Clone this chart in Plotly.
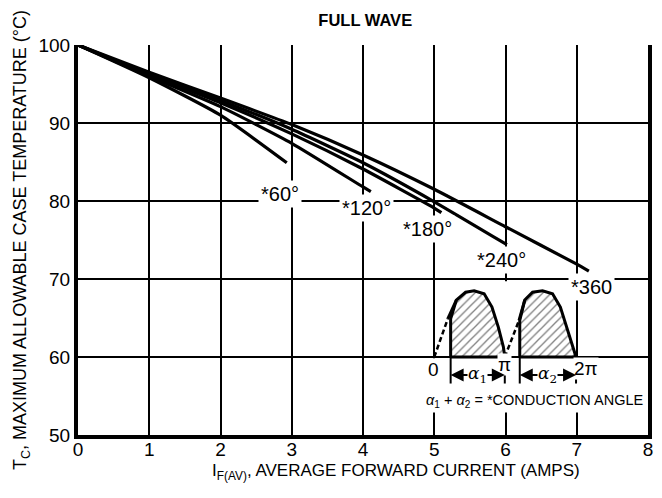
import plotly.graph_objects as go

# ---- data ----
x_ticks = [0, 1, 2, 3, 4, 5, 6, 7, 8]
y_ticks = [50, 60, 70, 80, 90, 100]

x_360 = [0, 1, 2, 3, 4, 5, 6, 7, 7.17]
t_360 = [100, 96.5, 93.2, 89.8, 85.9, 81.5, 76.7, 71.9, 71.0]
x_240 = [0, 1, 2, 3, 4, 5, 6.02]
t_240 = [100, 96.3, 92.9, 89.2, 84.9, 79.9, 74.4]
x_180 = [0, 1, 2, 3, 4, 5, 5.1]
t_180 = [100, 96.2, 92.6, 88.6, 84.1, 79.1, 78.5]
x_120 = [0, 1, 2, 3, 4, 4.11]
t_120 = [100, 96.0, 92.1, 87.4, 81.8, 81.2]
x_60 = [0, 1, 2, 2.93]
t_60 = [100, 95.8, 91.0, 84.9]

curve_names = ["*60°", "*120°", "*180°", "*240°", "*360"]
label_x = [2.84, 4.05, 4.9, 5.95, 7.2]
label_t = [80.9, 79.1, 76.4, 72.4, 69.0]

# inset waveform
hump1_x = [5.19, 5.31, 5.44, 5.56, 5.70, 5.81, 5.90, 5.97, 5.99]
hump1_t = [64.9, 67.3, 68.3, 68.5, 68.1, 66.4, 63.8, 61.3, 60.0]
hump2_x = [6.19, 6.27, 6.38, 6.52, 6.66, 6.77, 6.86, 6.95, 6.99]
hump2_t = [64.7, 67.3, 68.3, 68.5, 68.1, 66.4, 63.8, 61.3, 60.0]
start1_x = 5.23
start2_x = 6.20
dash1_x = [5.0, 5.19]
dash1_t = [60.0, 64.9]
dash2_x = [5.99, 6.19]
dash2_t = [60.0, 64.7]

FONT = "Liberation Sans, Arial, sans-serif"

fig = go.Figure()

line_style = dict(color="black", width=3.2, shape="spline", smoothing=0.5)
for xs, ts in [(x_60, t_60), (x_120, t_120), (x_180, t_180), (x_240, t_240), (x_360, t_360)]:
    fig.add_trace(go.Scatter(x=xs, y=ts, mode="lines", line=line_style,
                             showlegend=False, hoverinfo="skip"))

# hatched humps
for hx, ht, sx in [(hump1_x, hump1_t, start1_x), (hump2_x, hump2_t, start2_x)]:
    px = [sx, sx] + hx[1:] + [sx]
    pt = [60.0, ht[0]] + ht[1:] + [60.0]
    fig.add_trace(go.Scatter(x=px, y=pt, mode="lines", fill="toself",
                             fillcolor="rgba(255,255,255,1)",
                             fillpattern=dict(shape="/", fgcolor="black", bgcolor="white",
                                              size=6, solidity=0.22),
                             line=dict(color="black", width=3),
                             showlegend=False, hoverinfo="skip"))
    fig.add_trace(go.Scatter(x=hx[:2], y=ht[:2], mode="lines",
                             line=dict(color="black", width=3),
                             showlegend=False, hoverinfo="skip"))

for dx, dt in [(dash1_x, dash1_t), (dash2_x, dash2_t)]:
    fig.add_trace(go.Scatter(x=dx, y=dt, mode="lines",
                             line=dict(color="black", width=2.5, dash="5px,3px"),
                             showlegend=False, hoverinfo="skip"))

shapes = []
# masks hiding grid lines inside the inset
shapes.append(dict(type="rect", xref="x", yref="y", x0=4.8, x1=7.96, y0=52.9, y1=59.8,
                   fillcolor="white", line=dict(width=0), layer="between"))
shapes.append(dict(type="rect", xref="x", yref="y", x0=5.9, x1=6.1, y0=60.3, y1=69.7,
                   fillcolor="white", line=dict(width=0), layer="between"))
# bracket ticks
for bx in [start1_x, 5.99, start2_x, 6.99]:
    shapes.append(dict(type="line", xref="x", yref="y", x0=bx, x1=bx, y0=56.6, y1=60.0,
                       line=dict(color="black", width=2), layer="above"))

annotations = []
for name, lx, lt in zip(curve_names, label_x, label_t):
    annotations.append(dict(x=lx, y=lt, xref="x", yref="y", text=name, showarrow=False,
                            font=dict(family=FONT, size=20, color="black"),
                            bgcolor="white", borderpad=2))

# pi labels
for txt, tx, tt in [("0", 4.99, 58.4), ("π", 5.99, 59.0), ("2π", 7.13, 58.5)]:
    annotations.append(dict(x=tx, y=tt, xref="x", yref="y", text=txt, showarrow=False,
                            font=dict(family=FONT, size=19, color="black"),
                            bgcolor="white", borderpad=0))

# alpha brackets with arrows
for cx, left, right, sub in [((start1_x + 5.99) / 2, start1_x, 5.99, "1"),
                             ((start2_x + 6.99) / 2, start2_x, 6.99, "2")]:
    for end in (left, right):
        annotations.append(dict(x=end, y=57.7, ax=cx, ay=57.7, xref="x", yref="y",
                                axref="x", ayref="y", text="", showarrow=True,
                                arrowhead=2, arrowsize=1.3, arrowwidth=2, arrowcolor="black"))
    annotations.append(dict(x=cx, y=57.7, xref="x", yref="y",
                            text="<i>α</i><sub>" + sub + "</sub>", showarrow=False,
                            font=dict(family="DejaVu Serif, serif", size=17, color="black"),
                            bgcolor="white", borderpad=0))

annotations.append(dict(x=6.42, y=54.3, xref="x", yref="y",
                        text="<i>α</i><sub>1</sub> + <i>α</i><sub>2</sub> = *CONDUCTION ANGLE",
                        showarrow=False,
                        font=dict(family=FONT, size=14.5, color="black"),
                        bgcolor="white", borderpad=1))

# x-axis title (placed like the reference, right of centre)
annotations.append(dict(x=0.558, y=0, xref="paper", yref="paper", yanchor="middle",
                        yshift=-37, showarrow=False,
                        text="I<sub>F(AV)</sub>, AVERAGE FORWARD CURRENT (AMPS)",
                        font=dict(family=FONT, size=17, color="black")))

fig.update_layout(
    width=646, height=482,
    margin=dict(l=70, r=2, t=37, b=55),
    paper_bgcolor="white", plot_bgcolor="white",
    title=dict(text="<b>FULL WAVE</b>", x=0.553, xanchor="center", y=0.975, yanchor="middle",
               font=dict(family=FONT, size=16.5, color="black")),
    shapes=shapes, annotations=annotations,
    font=dict(family=FONT, color="black"),
)
fig.update_xaxes(range=[0, 8], tickvals=x_ticks, ticktext=[str(v) for v in x_ticks],
                 showgrid=True, gridcolor="black", gridwidth=2,
                 showline=True, linecolor="black", linewidth=4, zeroline=False,
                 ticks="", ticklabeloverflow="allow", ticklabelstandoff=-6, automargin=False,
                 tickfont=dict(family=FONT, size=19, color="black"))
fig.update_yaxes(range=[50, 100], tickvals=y_ticks, ticktext=[str(v) for v in y_ticks],
                 showgrid=True, gridcolor="black", gridwidth=2,
                 showline=True, mirror=True, linecolor="black", linewidth=4, zeroline=False,
                 ticks="", tickfont=dict(family=FONT, size=19, color="black"),
                 title=dict(text="T<sub>C</sub>, MAXIMUM ALLOWABLE CASE TEMPERATURE (°C)",
                            font=dict(family=FONT, size=18, color="black"), standoff=8))

fig.write_html("out.html")
